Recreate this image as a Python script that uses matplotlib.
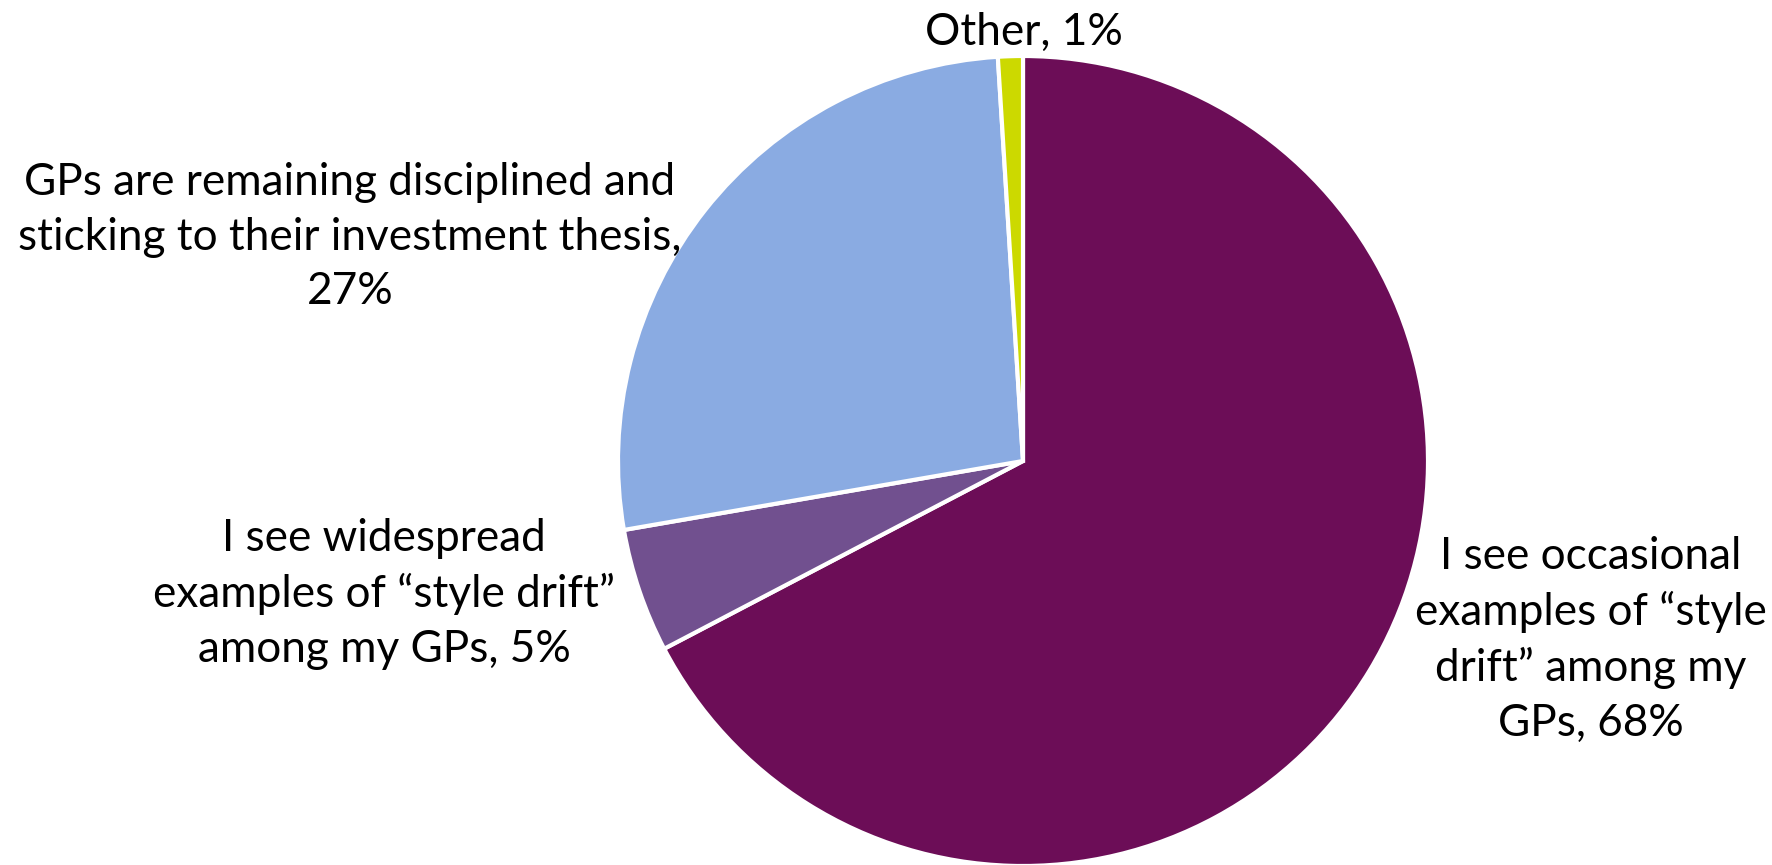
import matplotlib
matplotlib.use("Agg")
import matplotlib.pyplot as plt

plt.rcParams['font.family'] = ['Lato', 'DejaVu Sans']

categories = [
    "I see occasional\nexamples of \u201cstyle\ndrift\u201d among my\nGPs",
    "I see widespread\nexamples of \u201cstyle drift\u201d\namong my GPs",
    "GPs are remaining disciplined and\nsticking to their investment thesis,\n",
    "Other",
]
values = [68, 5, 27, 1]
colors = ["#6C0D57", "#71508F", "#8AABE2", "#CCD900"]

W, H = 1772, 865
fig = plt.figure(figsize=(W / 100, H / 100), dpi=100)
ax = fig.add_axes([0, 0, 1, 1])

cx, cy, r = 1023, H - 461, 405
ax.pie(values, colors=colors, startangle=90, counterclock=False,
       center=(cx, cy), radius=r, frame=True,
       wedgeprops=dict(edgecolor='white', linewidth=3))
ax.set_xlim(0, W)
ax.set_ylim(0, H)
ax.set_aspect('equal')
ax.axis('off')

label_pos = [(1591, H - 640), (384, H - 594), (350, H - 237), (1024, H - 32)]
for cat, val, (x, y) in zip(categories, values, label_pos):
    sep = "" if cat.endswith("\n") else ", "
    ax.text(x, y, f"{cat}{sep}{val}%", ha='center', va='center',
            fontsize=31.8, linespacing=1.41, color='black')

fig.savefig("out.png", dpi=100)
